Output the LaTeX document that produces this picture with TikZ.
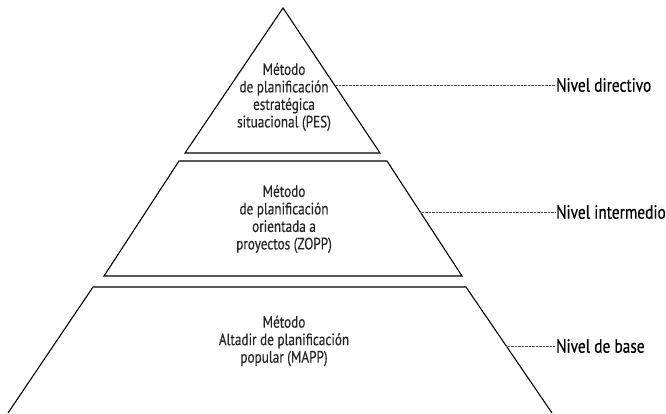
\documentclass[tikz,border=0pt]{standalone}
\usepackage{fontspec}
\setmainfont{PT Sans}
\newfontfamily\condfont[FakeStretch=0.8,FakeBold=0.4]{PT Sans}
\begin{document}
\begin{tikzpicture}[x=1pt,y=-1pt,
  level/.style={draw=black,line width=1.1pt,line join=miter},
  intext/.style={align=center,inner sep=0pt,font=\condfont\fontsize{16.5}{17.5}\selectfont,text=black!85},
  lbl/.style={anchor=west,inner sep=1pt,font=\condfont\fontsize{19.2}{21}\selectfont},
  dotline/.style={draw=black!70,line width=0.6pt,dash pattern=on 0.7pt off 0.7pt}]
\useasboundingbox (0,0) rectangle (666,414);
% shapes
\draw[level] (283,8) -- (380,153) -- (185,153) -- cycle;
\draw[level] (179,161) -- (387,161) -- (462,276) -- (104,276) -- cycle;
\draw[level] (8,413) -- (93,287) -- (466,287) -- (552,413);
% texts
\node[intext] (t1) at (284,97) {Método\\de planificación\\estratégica\\situacional (PES)};
\node[intext] (t2) at (284,219) {Método\\de planificación\\orientada a\\proyectos (ZOPP)};
\node[intext] (t3) at (284,341) {Método\\Altadir de planificación\\popular (MAPP)};
% labels
\node[lbl] (l1) at (555,85) {Nivel directivo};
\node[lbl] (l2) at (555,212) {Nivel intermedio};
\node[lbl] (l3) at (555,346) {Nivel de base};
\coordinate (e1) at (334.5,85);
\coordinate (e2) at (420.3,212);
\coordinate (e3) at (506.3,346);
\draw[dotline] (e1) -- (l1.west);
\draw[dotline] (e2) -- (l2.west);
\draw[dotline] (e3) -- (l3.west);
\end{tikzpicture}
\end{document}
